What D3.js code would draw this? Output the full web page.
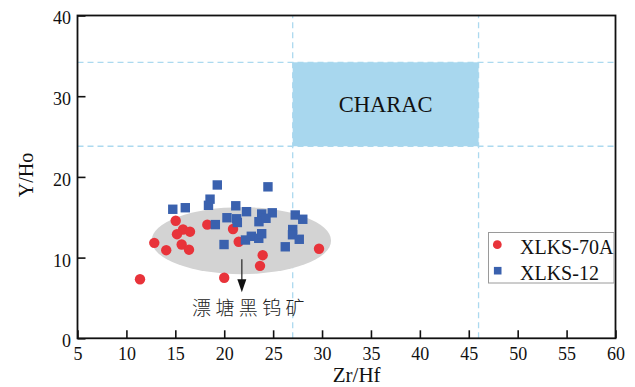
<!DOCTYPE html>
<html>
<head>
<meta charset="utf-8">
<script src="https://cdn.jsdelivr.net/npm/d3@7"></script>
<style>
  html, body { margin: 0; padding: 0; background: #fff; }
  svg { display: block; }
</style>
</head>
<body>
<svg id="chart" width="635" height="387"></svg>
<script>
// Zr/Hf vs Y/Ho diagram
const xTicks = [5, 10, 15, 20, 25, 30, 35, 40, 45, 50, 55, 60];
const yTicks = [0, 10, 20, 30, 40];

// sample XLKS-70A: [Zr/Hf, Y/Ho]
const xlks70A = [
  [15.04, 14.57], [15.79, 13.48], [16.50, 13.21], [15.17, 12.90],
  [18.27, 14.08], [20.90, 13.54], [12.85, 11.83], [14.07, 10.92],
  [15.65, 11.62], [16.40, 10.98], [21.48, 11.97], [23.93, 10.30],
  [23.66, 8.98], [29.69, 11.10], [11.39, 7.32], [20.00, 7.50]
];

// sample XLKS-12: [Zr/Hf, Y/Ho]
const xlks12 = [
  [19.29, 19.00], [24.47, 18.77], [18.55, 17.24], [18.39, 16.48],
  [14.74, 15.99], [16.02, 16.18], [21.18, 16.42], [22.28, 15.69],
  [23.83, 15.40], [24.91, 15.55], [19.09, 14.09], [20.28, 14.94],
  [21.27, 14.81], [21.34, 14.35], [23.55, 14.45], [24.27, 14.87],
  [27.26, 15.28], [28.03, 14.75], [19.98, 11.62], [22.17, 12.18],
  [22.77, 12.64], [23.53, 12.39], [23.83, 12.96], [27.00, 13.48],
  [26.98, 12.83], [27.67, 12.27], [26.24, 11.34]
];

// CHARAC field bounds
const characZrHf = [27, 46];
const characYHo = [23.8, 34.2];
const characLabel = "CHARAC";

// field of the Piaotang wolframite (center, half axes)
const fieldCenter = [21.75, 12.1];
const fieldRadii = [9.17, 4.15];
const fieldArrow = [[21.8, 9.8], [21.8, 5.7]];
const fieldLabel = "漂塘黑钨矿";

const legendLabels = ["XLKS-70A", "XLKS-12"];
const xTitle = "Zr/Hf";
const yTitle = "Y/Ho";

const svg = d3.select("#chart");
const serif = "'Liberation Serif', 'Times New Roman', serif";
const red = "#e8333a";
const blue = "#3a61ae";
const dashBlue = "#acd9ef";

const x = d3.scaleLinear().domain([5, 60]).range([77.5, 615.5]);
const y = d3.scaleLinear().domain([0, 40]).range([338.3, 15.5]);

const [x0, x1] = x.range();
const [y0, y1] = y.range();

// reference dashed lines
const dashG = svg.append("g")
  .attr("stroke", dashBlue).attr("stroke-width", 1.3)
  .attr("stroke-dasharray", "6,4");
dashG.selectAll("line.v").data(characZrHf).join("line")
  .attr("class", "v")
  .attr("x1", d => x(d)).attr("x2", d => x(d))
  .attr("y1", y0).attr("y2", y1);
dashG.selectAll("line.h").data(characYHo).join("line")
  .attr("class", "h")
  .attr("x1", x0).attr("x2", x1)
  .attr("y1", d => y(d)).attr("y2", d => y(d));

// CHARAC box
svg.append("rect")
  .attr("x", x(characZrHf[0]))
  .attr("y", y(characYHo[1]))
  .attr("width", x(characZrHf[1]) - x(characZrHf[0]))
  .attr("height", y(characYHo[0]) - y(characYHo[1]))
  .attr("fill", "#a8d7ee");
svg.append("text")
  .attr("x", x((characZrHf[0] + characZrHf[1]) / 2))
  .attr("y", y((characYHo[0] + characYHo[1]) / 2) + 8)
  .attr("text-anchor", "middle")
  .attr("font-family", serif).attr("font-size", 22.5)
  .attr("fill", "#111")
  .text(characLabel);

// grey field ellipse
svg.append("ellipse")
  .attr("cx", x(fieldCenter[0])).attr("cy", y(fieldCenter[1]))
  .attr("rx", x(fieldCenter[0] + fieldRadii[0]) - x(fieldCenter[0]))
  .attr("ry", y(fieldCenter[1] - fieldRadii[1]) - y(fieldCenter[1]))
  .attr("fill", "#d3d3d3");

// points
svg.append("g").selectAll("circle").data(xlks70A).join("circle")
  .attr("cx", d => x(d[0])).attr("cy", d => y(d[1]))
  .attr("r", 5.2).attr("fill", red);

const sq = 9.4;
svg.append("g").selectAll("rect").data(xlks12).join("rect")
  .attr("x", d => x(d[0]) - sq / 2).attr("y", d => y(d[1]) - sq / 2)
  .attr("width", sq).attr("height", sq).attr("fill", blue);

// arrow from the field to its label
const ax = x(fieldArrow[0][0]);
const ayStart = y(fieldArrow[0][1]);
const ayTip = y(fieldArrow[1][1]);
const headLen = 13, headHalf = 4.5;
svg.append("line")
  .attr("x1", ax).attr("x2", ax)
  .attr("y1", ayStart).attr("y2", ayTip - headLen + 1)
  .attr("stroke", "#333").attr("stroke-width", 1.3);
svg.append("path")
  .attr("d", `M${ax - headHalf},${ayTip - headLen}L${ax + headHalf},${ayTip - headLen}L${ax},${ayTip}Z`)
  .attr("fill", "#111");

svg.append("text")
  .attr("x", 192).attr("y", 314.5)
  .attr("font-family", "'Noto Sans CJK SC', sans-serif")
  .attr("font-size", 19).attr("font-weight", 300).attr("letter-spacing", "4.4px")
  .attr("fill", "#222")
  .text(fieldLabel);

// axes with inward ticks
const xAxis = d3.axisBottom(x).tickValues(xTicks).tickSize(-8).tickPadding(8.5);
const yAxis = d3.axisLeft(y).tickValues(yTicks).tickSize(-8).tickPadding(6.5);

const gx = svg.append("g").attr("transform", `translate(0,${y0})`).call(xAxis);
const gy = svg.append("g").attr("transform", `translate(${x0},0)`).call(yAxis);
[gx, gy].forEach(g => {
  g.select(".domain").remove();
  g.selectAll(".tick line").attr("stroke", "#111").attr("stroke-width", 1.6);
  g.selectAll(".tick text")
    .attr("font-family", serif).attr("font-size", 18).attr("fill", "#111");
});
gy.selectAll(".tick text").attr("dy", "0.47em");

// frame
svg.append("rect")
  .attr("x", x0).attr("y", y1)
  .attr("width", x1 - x0).attr("height", y0 - y1)
  .attr("fill", "none").attr("stroke", "#111").attr("stroke-width", 1.8);

// axis titles
svg.append("text")
  .attr("x", 356.7).attr("y", 382.3)
  .attr("text-anchor", "middle")
  .attr("font-family", serif).attr("font-size", 21).attr("fill", "#111")
  .text(xTitle);
svg.append("text")
  .attr("transform", "translate(33,175) rotate(-90)")
  .attr("text-anchor", "middle")
  .attr("font-family", serif).attr("font-size", 20).attr("fill", "#111")
  .text(yTitle);

// legend
const legend = svg.append("g");
legend.append("rect")
  .attr("x", 488.5).attr("y", 232.5).attr("width", 125.5).attr("height", 50.5)
  .attr("fill", "#fff").attr("stroke", "#9a9a9a").attr("stroke-width", 1);
const rows = legend.selectAll("g.row").data(legendLabels).join("g")
  .attr("class", "row")
  .attr("transform", (d, i) => `translate(0,${244.7 + i * 26})`);
rows.filter((d, i) => i === 0).append("circle")
  .attr("cx", 497.3).attr("cy", 0).attr("r", 4.4).attr("fill", red);
rows.filter((d, i) => i === 1).append("rect")
  .attr("x", 497.7 - 3.8).attr("y", -3.8).attr("width", 7.6).attr("height", 7.6)
  .attr("fill", blue);
rows.append("text")
  .attr("x", 520).attr("y", 9.3)
  .attr("font-family", serif).attr("font-size", 20).attr("fill", "#111")
  .text(d => d);
</script>
</body>
</html>
